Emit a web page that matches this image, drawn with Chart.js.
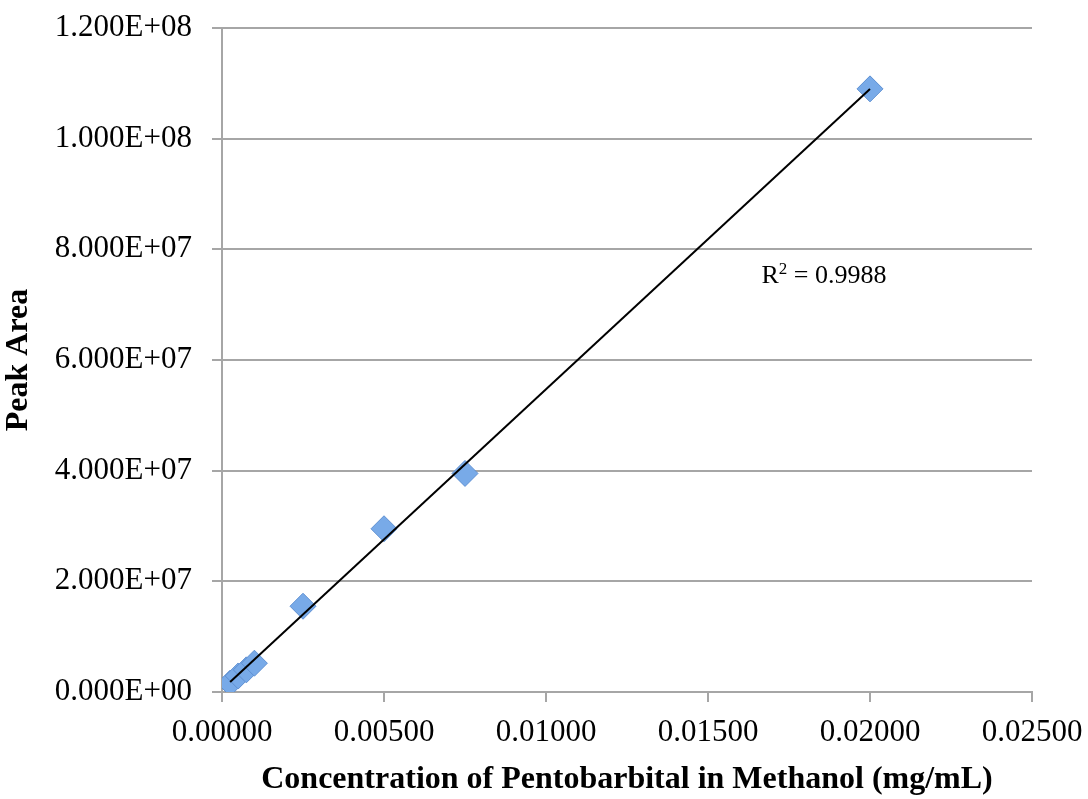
<!DOCTYPE html>
<html>
<head>
<meta charset="utf-8">
<script src="https://cdn.jsdelivr.net/npm/chart.js@4"></script>
<style>
  html, body { margin: 0; padding: 0; background: #fff; }
  #wrap { width: 1088px; height: 799px; }
</style>
</head>
<body>
<div id="wrap"><canvas id="chart"></canvas></div>
<script>
const concentrations = [0.00025, 0.0005, 0.00075, 0.001, 0.0025, 0.005, 0.0075, 0.02];
const peakAreas = [1.6e6, 2.9e6, 4.0e6, 5.2e6, 1.55e7, 2.95e7, 3.95e7, 1.09e8];
const xTicks = [0, 0.005, 0.01, 0.015, 0.02, 0.025];
const yTicks = [0, 2e7, 4e7, 6e7, 8e7, 1e8, 1.2e8];
const rSquaredLabel = { x: 0.01665, y: 7.4e7, text: '0.9988' };

// least squares trend line
const n = concentrations.length;
const mx = concentrations.reduce((a, b) => a + b, 0) / n;
const my = peakAreas.reduce((a, b) => a + b, 0) / n;
let sxy = 0, sxx = 0;
concentrations.forEach((x, i) => { sxy += (x - mx) * (peakAreas[i] - my); sxx += (x - mx) * (x - mx); });
const slope = sxy / sxx;
const intercept = my - slope * mx;
const xMin = Math.min(...concentrations), xMax = Math.max(...concentrations);
const trend = [xMin, xMax].map(x => ({ x: x, y: slope * x + intercept }));

const points = concentrations.map((x, i) => ({ x: x, y: peakAreas[i] }));

function sciLabel(v) {
    if (v === 0) return '0.000E+00';
    const [m, e] = v.toExponential(3).split('e');
    const ev = parseInt(e, 10);
    return m + 'E' + (ev < 0 ? '-' : '+') + String(Math.abs(ev)).padStart(2, '0');
}

const serif = '"Liberation Serif", "Times New Roman", serif';

const r2Plugin = {
    id: 'r2',
    afterDatasetsDraw(chart) {
        const c = chart.ctx;
        const px = chart.scales.x.getPixelForValue(rSquaredLabel.x);
        const py = chart.scales.y.getPixelForValue(rSquaredLabel.y);
        c.save();
        c.fillStyle = '#000';
        c.textBaseline = 'alphabetic';
        c.textAlign = 'left';
        c.font = '26px ' + serif;
        c.fillText('R', px, py);
        let w = c.measureText('R').width;
        c.font = '17px ' + serif;
        c.fillText('2', px + w, py - 9);
        w += c.measureText('2').width;
        c.font = '26px ' + serif;
        c.fillText(' = ' + rSquaredLabel.text, px + w, py);
        c.restore();
    }
};

new Chart(document.querySelector('#chart'), {
    type: 'scatter',
    data: {
        datasets: [
            {
                label: 'Peak Area',
                data: points,
                pointStyle: 'rectRot',
                pointRadius: 13,
                pointHoverRadius: 13,
                backgroundColor: '#78aae8',
                borderColor: '#5f90d2',
                borderWidth: 1,
                order: 2
            },
            {
                label: 'Trend',
                type: 'line',
                data: trend,
                borderColor: '#000',
                borderWidth: 2,
                pointRadius: 0,
                fill: false,
                order: 1
            }
        ]
    },
    options: {
        responsive: true,
        maintainAspectRatio: false,
        animation: false,
        layout: { padding: { top: 28, right: 56, left: 0, bottom: 0 } },
        plugins: {
            legend: { display: false },
            tooltip: { enabled: false }
        },
        scales: {
            x: {
                type: 'linear',
                min: 0,
                max: 0.025,
                afterBuildTicks: s => { s.ticks = xTicks.map(v => ({ value: v })); },
                afterFit: s => { s.height = 107; s.paddingLeft = 0; s.paddingRight = 0; },
                border: { color: '#a6a6a6', width: 2 },
                grid: { display: true, drawOnChartArea: false, drawTicks: true, tickLength: 10, color: '#a6a6a6', lineWidth: 2 },
                ticks: {
                    color: '#000',
                    padding: 12,
                    maxRotation: 0,
                    font: { family: serif, size: 31 },
                    callback: v => v.toFixed(5)
                },
                title: {
                    display: true,
                    text: 'Concentration of Pentobarbital in Methanol (mg/mL)',
                    color: '#000',
                    font: { family: serif, size: 32, weight: 'bold' },
                    padding: { top: 4, bottom: 0 }
                }
            },
            y: {
                type: 'linear',
                min: 0,
                max: 1.2e8,
                afterBuildTicks: s => { s.ticks = yTicks.map(v => ({ value: v })); },
                afterFit: s => { s.width = 222; s.paddingTop = 0; s.paddingBottom = 0; },
                border: { color: '#a6a6a6', width: 2 },
                grid: { color: '#a6a6a6', lineWidth: 2, tickLength: 10, drawTicks: true },
                ticks: {
                    color: '#000',
                    padding: 20,
                    font: { family: serif, size: 31 },
                    callback: v => sciLabel(v)
                },
                title: {
                    display: true,
                    text: 'Peak Area',
                    color: '#000',
                    font: { family: serif, size: 32, weight: 'bold' },
                    padding: { top: 0, bottom: 0 }
                }
            }
        }
    },
    plugins: [r2Plugin]
});
</script>
</body>
</html>
